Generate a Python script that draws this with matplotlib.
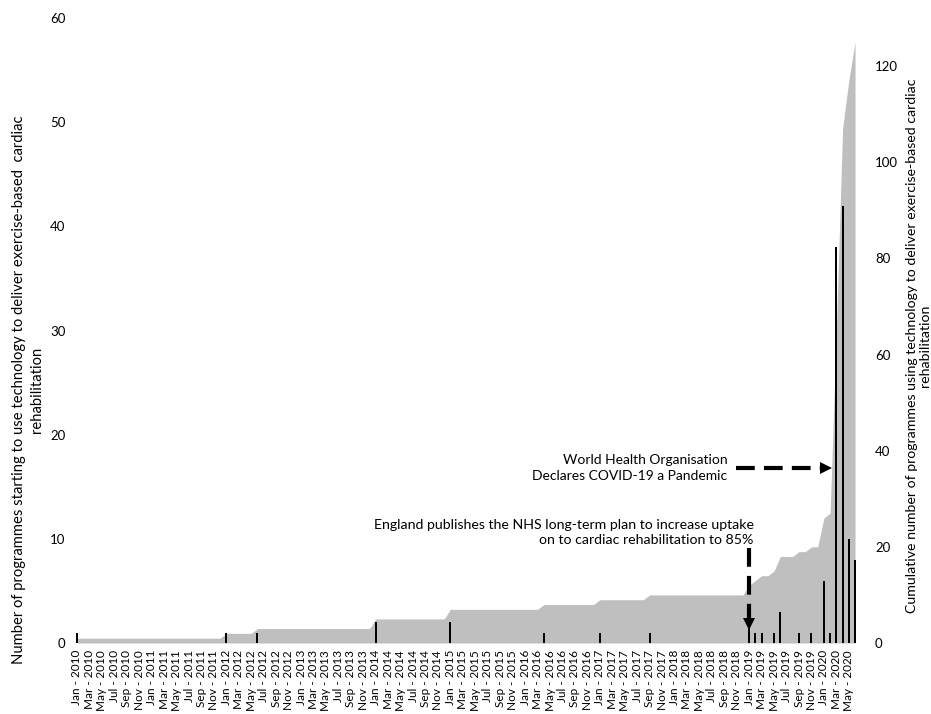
import numpy as np
import matplotlib.pyplot as plt

plt.rcParams['font.family'] = ['Lato', 'DejaVu Sans']

# Month categories, Jan 2010 to Jun 2020
months = ['Jan', 'Feb', 'Mar', 'Apr', 'May', 'Jun',
          'Jul', 'Aug', 'Sep', 'Oct', 'Nov', 'Dec']
years = list(range(2010, 2021))
categories = [f'{m} - {y}' for y in years for m in months][:126]

# New programmes starting each month (left axis)
new_2010 = [1, 0, 0, 0, 0, 0, 0, 0, 0, 0, 0, 0]
new_2011 = [0, 0, 0, 0, 0, 0, 0, 0, 0, 0, 0, 0]
new_2012 = [1, 0, 0, 0, 0, 1, 0, 0, 0, 0, 0, 0]
new_2013 = [0, 0, 0, 0, 0, 0, 0, 0, 0, 0, 0, 0]
new_2014 = [2, 0, 0, 0, 0, 0, 0, 0, 0, 0, 0, 0]
new_2015 = [2, 0, 0, 0, 0, 0, 0, 0, 0, 0, 0, 0]
new_2016 = [0, 0, 0, 1, 0, 0, 0, 0, 0, 0, 0, 0]
new_2017 = [1, 0, 0, 0, 0, 0, 0, 0, 1, 0, 0, 0]
new_2018 = [0, 0, 0, 0, 0, 0, 0, 0, 0, 0, 0, 0]
new_2019 = [2, 1, 1, 0, 1, 3, 0, 0, 1, 0, 1, 0]
new_2020 = [6, 1, 38, 42, 10, 8]
new_programmes = (new_2010 + new_2011 + new_2012 + new_2013 + new_2014 + new_2015
                  + new_2016 + new_2017 + new_2018 + new_2019 + new_2020)

# Cumulative programmes (right axis)
cum_2010 = [1, 1, 1, 1, 1, 1, 1, 1, 1, 1, 1, 1]
cum_2011 = [1, 1, 1, 1, 1, 1, 1, 1, 1, 1, 1, 1]
cum_2012 = [2, 2, 2, 2, 2, 3, 3, 3, 3, 3, 3, 3]
cum_2013 = [3, 3, 3, 3, 3, 3, 3, 3, 3, 3, 3, 3]
cum_2014 = [5, 5, 5, 5, 5, 5, 5, 5, 5, 5, 5, 5]
cum_2015 = [7, 7, 7, 7, 7, 7, 7, 7, 7, 7, 7, 7]
cum_2016 = [7, 7, 7, 8, 8, 8, 8, 8, 8, 8, 8, 8]
cum_2017 = [9, 9, 9, 9, 9, 9, 9, 9, 10, 10, 10, 10]
cum_2018 = [10, 10, 10, 10, 10, 10, 10, 10, 10, 10, 10, 10]
cum_2019 = [12, 13, 14, 14, 15, 18, 18, 18, 19, 19, 20, 20]
cum_2020 = [26, 27, 65, 107, 117, 125]
cumulative = (cum_2010 + cum_2011 + cum_2012 + cum_2013 + cum_2014 + cum_2015
              + cum_2016 + cum_2017 + cum_2018 + cum_2019 + cum_2020)

x = np.arange(len(categories))

fig = plt.figure(figsize=(9.31, 7.14), dpi=100)
ax = fig.add_axes([75.1 / 931, 71 / 714, 781.8 / 931, 625 / 714])
ax2 = ax.twinx()

ax2.fill_between(x, cumulative, color='#BFBFBF', lw=0)
ax.bar(x, new_programmes, width=0.32, color='black')

# bars on top of the grey area
ax.set_zorder(ax2.get_zorder() + 1)
ax.patch.set_visible(False)

ax.set_xlim(-0.3, 125.3)
ax.set_ylim(0, 60)
ax2.set_ylim(0, 130)
ax.set_yticks(range(0, 61, 10))
ax2.set_yticks(range(0, 121, 20))
ax.set_xticks(x[::2])
ax.set_xticklabels(categories[::2], rotation=90)

for a in (ax, ax2):
    for s in a.spines.values():
        s.set_visible(False)
ax.tick_params(axis='y', length=0, labelsize=9.5, pad=7)
ax.tick_params(axis='x', length=0, labelsize=8.5, pad=5)
ax2.tick_params(axis='y', length=0, labelsize=9.5, pad=13)

# Annotations
dash = (0, (4.5, 2.2))
ax.text(104.5, 16.8, 'World Health Organisation\nDeclares COVID-19 a Pandemic',
        ha='right', va='center', fontsize=10, linespacing=1.35)
ax.plot([105.8, 120.4], [16.8, 16.8], color='black', lw=3, linestyle=dash)
ax.plot([120.4], [16.8], marker='>', ms=8.5, color='black', mew=0)

ax.text(108.7, 10.65, 'England publishes the NHS long-term plan to increase uptake\n'
        'on to cardiac rehabilitation to 85%',
        ha='right', va='center', fontsize=10.2, linespacing=1.3)
ax.plot([108, 108], [9.1, 1.8], color='black', lw=3, linestyle=dash)
ax.plot([108], [1.8], marker='v', ms=8, color='black', mew=0)

fig.text(28 / 931, 1 - 390 / 714,
         'Number of programmes starting to use technology to deliver exercise-based  cardiac\n'
         'rehabilitation', rotation=90, ha='center', va='center',
         multialignment='center', fontsize=10.6, linespacing=1.3)
fig.text(918 / 931, 1 - 346 / 714,
         'Cumulative number of programmes using technology to deliver exercise-based cardiac\n'
         'rehabilitation', rotation=90, ha='center', va='center',
         multialignment='center', fontsize=10.2, linespacing=1.1)

fig.savefig('out.png', dpi=100)
